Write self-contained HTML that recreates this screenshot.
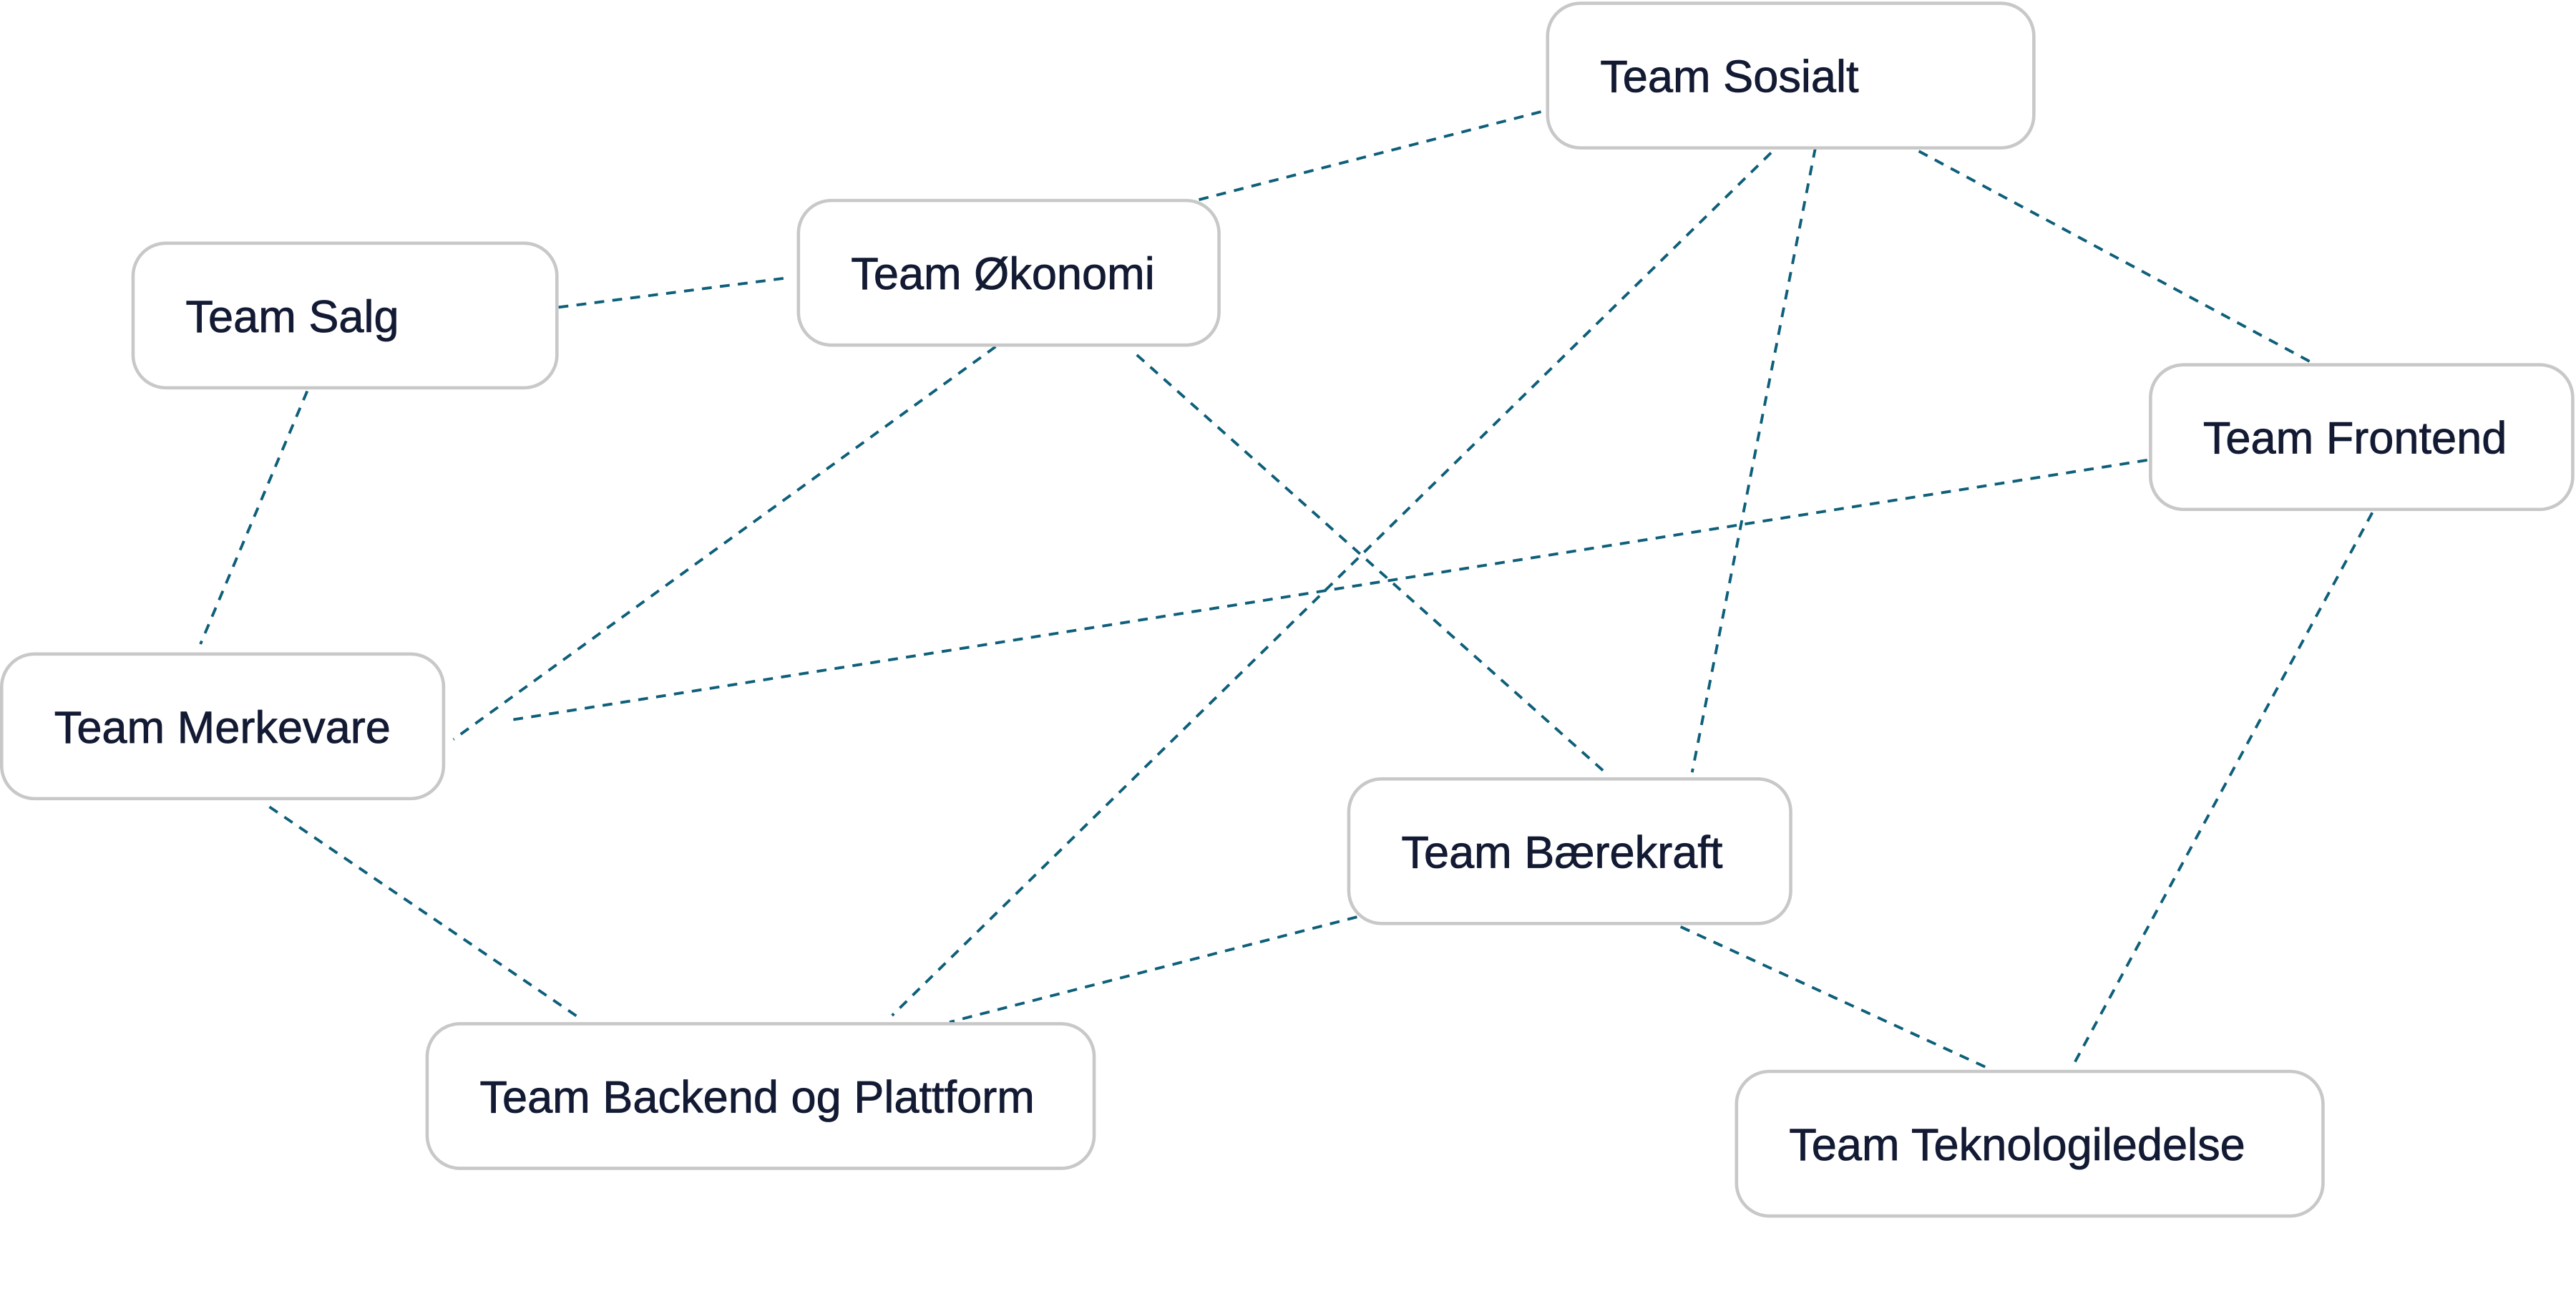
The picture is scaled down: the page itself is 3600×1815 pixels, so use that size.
<!DOCTYPE html>
<html><head><meta charset="utf-8"><style>
html,body{margin:0;padding:0;background:#fff;}
svg{display:block;}
text{font-family:"Liberation Sans",sans-serif;font-size:27.5px;fill:#131a33;stroke:#131a33;stroke-width:0.35;}
</style></head><body>
<svg width="3600" height="1815" viewBox="0 0 1568 790.5" preserveAspectRatio="none" xmlns="http://www.w3.org/2000/svg">
<g stroke="#0e5f7a" stroke-width="1.7" stroke-dasharray="6 5" fill="none">
<line x1="938" y1="68" x2="728" y2="122"/>
<line x1="340" y1="187" x2="480" y2="169"/>
<line x1="187" y1="238" x2="122" y2="392"/>
<line x1="606" y1="211" x2="276" y2="450"/>
<line x1="692" y1="216" x2="977" y2="470"/>
<line x1="1078" y1="93" x2="543" y2="618"/>
<line x1="1105" y1="90" x2="1030" y2="470"/>
<line x1="1168" y1="92" x2="1406" y2="220"/>
<line x1="1307" y1="280" x2="312" y2="438"/>
<line x1="1444" y1="312" x2="1261" y2="650"/>
<line x1="164" y1="491" x2="352" y2="619"/>
<line x1="826" y1="558" x2="578" y2="622"/>
<line x1="1023" y1="564" x2="1210" y2="650"/>
</g>
<g fill="#fff" stroke="#c8c8c8" stroke-width="2">
<rect x="942" y="2" width="296" height="88" rx="20"/>
<rect x="486" y="122" width="256" height="88" rx="20"/>
<rect x="81" y="148" width="258" height="88" rx="20"/>
<rect x="1309" y="222" width="257" height="88" rx="20"/>
<rect x="1" y="398" width="269" height="88" rx="20"/>
<rect x="821" y="474" width="269" height="88" rx="20"/>
<rect x="260" y="623" width="406" height="88" rx="20"/>
<rect x="1057" y="652" width="357" height="88" rx="20"/>
</g>
<text x="974" y="56">Team Sosialt</text>
<text x="518" y="176">Team Økonomi</text>
<text x="113" y="202">Team Salg</text>
<text x="1341" y="276">Team Frontend</text>
<text x="33" y="452">Team Merkevare</text>
<text x="853" y="528">Team Bærekraft</text>
<text x="292" y="677">Team Backend og Plattform</text>
<text x="1089" y="706">Team Teknologiledelse</text>
</svg>
</body></html>
